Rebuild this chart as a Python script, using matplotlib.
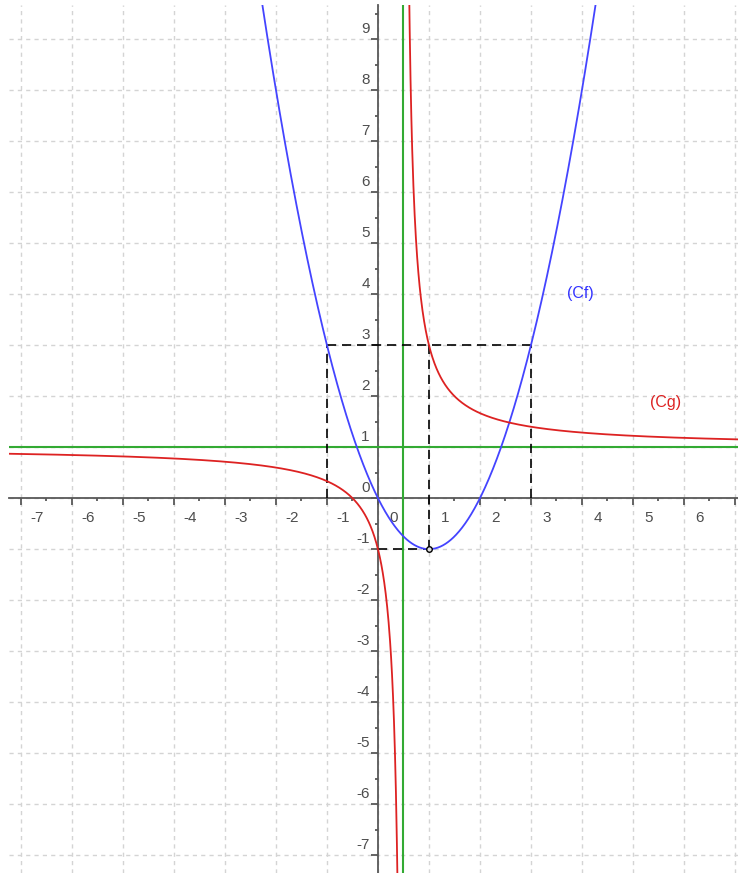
import numpy as np
import matplotlib
matplotlib.use("Agg")
import matplotlib.pyplot as plt

# ---- data ----
# Cf : parabola with vertex (1, -1), passes through (-1, 3), (0, 0), (2, 0), (3, 3)
f_vertex = (1.0, -1.0)
f_coef = 1.0
# Cg : hyperbola with asymptotes x = 0.5 and y = 1, passes through (1, 3), (0, -1)
g_asym_x = 0.5
g_asym_y = 1.0
g_k = 1.0

x_ticks = [-7, -6, -5, -4, -3, -2, -1, 0, 1, 2, 3, 4, 5, 6]
x_tick_labels = ["-7", "-6", "-5", "-4", "-3", "-2", "-1", "0", "1", "2", "3", "4", "5", "6"]
y_ticks = [-7, -6, -5, -4, -3, -2, -1, 0, 1, 2, 3, 4, 5, 6, 7, 8, 9]
y_tick_labels = ["-7", "-6", "-5", "-4", "-3", "-2", "-1", "0", "1", "2", "3", "4", "5", "6", "7", "8", "9"]

# dashed construction lines (x-values and y-values)
dash_x = [-1, 1, 3]
dash_x_bottom = [0, -1, 0]
dash_y_level = 3
dash_y2_level = -1
dash_y2_from = 0

curve_labels = ["(Cf)", "(Cg)"]
label_pos = [(3.97, 4.02), (5.64, 1.87)]

xlim = (-7.235, 7.06)
ylim = (-7.35, 9.67)

plt.rcParams['font.family'] = ['Liberation Sans', 'DejaVu Sans']

fig = plt.figure(figsize=(7.38, 8.73), dpi=100)
ax = fig.add_axes([9/738, 0, 729/738, 868/873])

# grid
grid_kw = dict(color="#d4d4d4", lw=1.0, ls=(0, (3, 3)), zorder=0)
for v in x_ticks + [7]:
    ax.axvline(v, **grid_kw)
for v in y_ticks:
    ax.axhline(v, **grid_kw)

# axes through origin
axis_col = "#585858"
for s in ["top", "right"]:
    ax.spines[s].set_visible(False)
ax.spines["left"].set_position(("data", 0))
ax.spines["bottom"].set_position(("data", 0))
for s in ["left", "bottom"]:
    ax.spines[s].set_color(axis_col)
    ax.spines[s].set_linewidth(1.3)
    ax.spines[s].set_zorder(2)

xmaj = [v for v in x_ticks + [7] if xlim[0] <= v <= xlim[1]]
xmin = [v - 0.5 for v in x_ticks + [7] if xlim[0] <= v - 0.5 <= xlim[1]]
ymaj = [v for v in y_ticks if ylim[0] <= v <= ylim[1]]
ymin = [v + 0.5 for v in y_ticks if ylim[0] <= v + 0.5 <= ylim[1]]
ax.set_xticks(xmaj)
ax.set_yticks(ymaj)
ax.set_xticks(xmin, minor=True)
ax.set_yticks(ymin, minor=True)
ax.set_xticklabels([])
ax.set_yticklabels([])
ax.tick_params(which="major", direction="out", length=5, width=1.3, color=axis_col)
ax.tick_params(which="minor", direction="out", length=2, width=1.3, color=axis_col)
ax.set_xlim(*xlim)
ax.set_ylim(*ylim)

# tick labels (offset like the reference)
lab_col = "#4d4d4d"
for v, t in zip(x_ticks, x_tick_labels):
    ax.annotate(t, (v, 0), xytext=(11.5, -14.0), textcoords="offset points",
                ha="center", va="center", fontsize=11, color=lab_col, zorder=3)
for v, t in zip(y_ticks, y_tick_labels):
    ax.annotate(t, (0, v), xytext=(-6.0, 7.0), textcoords="offset points",
                ha="right", va="center", fontsize=11, color=lab_col, zorder=3)

# asymptotes
ax.axvline(g_asym_x, color="#33aa33", lw=1.5, zorder=3)
ax.axhline(g_asym_y, color="#33aa33", lw=1.5, zorder=3)

# dashed construction lines
dkw = dict(color="black", lw=1.2, ls=(0, (5.5, 3.5)), zorder=4)
for xv, yb in zip(dash_x, dash_x_bottom):
    ax.plot([xv, xv], [yb, dash_y_level], **dkw)
ax.plot([min(dash_x), max(dash_x)], [dash_y_level, dash_y_level], **dkw)
ax.plot([dash_y2_from, f_vertex[0]], [dash_y2_level, dash_y2_level], **dkw)

# Cf
xf = np.linspace(-2.4, 4.4, 800)
yf = f_coef * (xf - f_vertex[0]) ** 2 + f_vertex[1]
ax.plot(xf, yf, color="#4444ff", lw=1.3, zorder=5)

# Cg
xl = np.linspace(xlim[0], g_asym_x - 0.1, 800)
xr = np.linspace(g_asym_x + 0.09, xlim[1], 800)
for xs in (xl, xr):
    ax.plot(xs, g_asym_y + g_k / (xs - g_asym_x), color="#dd2222", lw=1.3, zorder=5)

# vertex point
ax.plot([f_vertex[0]], [f_vertex[1]], marker="o", ms=4, mfc="#dddddd", mec="black",
        mew=1.0, zorder=6)

# curve labels
for t, (px, py), c in zip(curve_labels, label_pos, ["#3333ff", "#dd2222"]):
    ax.text(px, py, t, color=c, fontsize=11.5, ha="center", va="center", zorder=6)

fig.savefig("out.png", dpi=100)
